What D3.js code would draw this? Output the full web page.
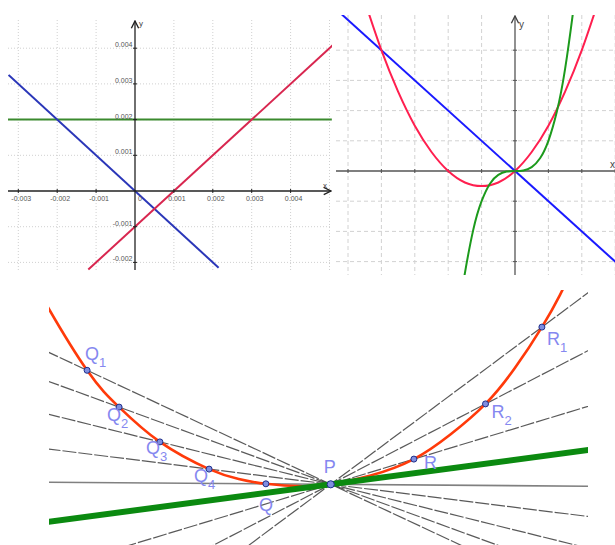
<!DOCTYPE html>
<html>
<head>
<meta charset="utf-8">
<script src="https://cdn.jsdelivr.net/npm/d3@7"></script>
<style>
  body { margin: 0; background: #fff; }
  svg { display: block; }
</style>
</head>
<body>
<div id="chart"></div>
<script>
// ---- panel A (top left): three straight lines, units of 0.001 ----
const aGridX = [-0.003, -0.002, -0.001, 0, 0.001, 0.002, 0.003, 0.004, 0.005];
const aGridY = [-0.002, -0.001, 0, 0.001, 0.002, 0.003, 0.004];
const aTickX = [-0.003, -0.002, -0.001, 0.001, 0.002, 0.003, 0.004];
const aTickY = [-0.002, -0.001, 0.001, 0.002, 0.003, 0.004];
const aBlue = [[-0.00325, 0.00325], [0.00215, -0.00215]];
const aRed = [[-0.0012, -0.0022], [0.0051, 0.0041]];
const aGreen = [[-0.00327, 0.002], [0.00506, 0.002]];

// ---- panel B (top right): line, parabola, cubic ----
const bGridX = [-5, -4, -3, -2, -1, 0, 1, 2, 3];
const bGridY = [-3, -2, -1, 0, 1, 2, 3, 4];
const bBlue = [[-5.3, 5.3], [3.3, -3.3]];
const bParabolaX = [-4.5, -4, -3.5, -3, -2.5, -2, -1.5, -1, -0.5, 0, 0.5, 1, 1.5, 2, 2.5];
const bParabolaY = [5.63, 4, 2.63, 1.5, 0.63, 0, -0.38, -0.5, -0.38, 0, 0.63, 1.5, 2.63, 4, 5.63];
const bCubicX = [-1.6, -1.5, -1.25, -1, -0.75, -0.5, -0.25, 0, 0.25, 0.5, 0.75, 1, 1.25, 1.5, 1.75, 1.8];
const bCubicY = [-4.1, -3.38, -1.95, -1, -0.42, -0.13, -0.02, 0, 0.02, 0.13, 0.42, 1, 1.95, 3.38, 5.36, 5.83];

// ---- panel C (bottom): secants through P approaching the tangent ----
const cCurveX = [-7.2, -7.03, -6.09, -5.29, -4.27, -3.04, -2.3, -1.62, -0.7, 0, 1.0, 2.08, 3.0, 3.87, 4.6, 5.28, 5.73, 6.0];
const cCurveY = [4.7, 4.36, 2.85, 1.93, 1.06, 0.38, 0.13, 0.012, -0.05, 0, 0.22, 0.63, 1.25, 2.01, 2.9, 3.93, 4.73, 5.3];
const cPoints = [
  { name: 'Q', sub: '1', x: -6.09, y: 2.85 },
  { name: 'Q', sub: '2', x: -5.29, y: 1.93 },
  { name: 'Q', sub: '3', x: -4.27, y: 1.06 },
  { name: 'Q', sub: '4', x: -3.04, y: 0.38 },
  { name: 'Q', sub: '', x: -1.62, y: 0.012 },
  { name: 'P', sub: '', x: 0, y: 0 },
  { name: 'R', sub: '', x: 2.08, y: 0.63 },
  { name: 'R', sub: '2', x: 3.87, y: 2.01 },
  { name: 'R', sub: '1', x: 5.28, y: 3.93 }
];
const cTangentSlope = 0.133;

// label offsets (px) from the point: text start, baseline
const labelOffset = {
  Q1: [-2, -10], Q2: [-12, 14], Q3: [-14, 12], Q4: [-15, 13], Q: [-7, 27],
  P: [-7, -11], R: [10, 10], R2: [6, 14], R1: [5, 18]
};

const W = 615, H = 545;
const svg = d3.select('#chart').append('svg')
  .attr('width', W).attr('height', H)
  .style('font-family', '"Liberation Sans", Arial, sans-serif');

const defs = svg.append('defs');
function clip(id, x, y, w, h) {
  defs.append('clipPath').attr('id', id)
    .append('rect').attr('x', x).attr('y', y).attr('width', w).attr('height', h);
  return `url(#${id})`;
}
function arrow(id, color) {
  defs.append('marker').attr('id', id)
    .attr('viewBox', '0 0 10 10').attr('refX', 9).attr('refY', 5)
    .attr('markerWidth', 7).attr('markerHeight', 7).attr('orient', 'auto')
    .append('path').attr('d', 'M1,1 L9,5 L1,9')
    .attr('fill', 'none').attr('stroke', color).attr('stroke-width', 1.5);
}
arrow('arrA', '#222');
arrow('arrB', '#444');

// ================= panel A =================
const ax = d3.scaleLinear().domain([-0.003, 0.005]).range([18.3, 329.5]);
const ay = d3.scaleLinear().domain([-0.002, 0.004]).range([262.4, 48.2]);
const gA = svg.append('g').attr('clip-path', clip('clipA', 8, 15, 324, 258));
const lineA = d3.line().x(d => ax(d[0])).y(d => ay(d[1]));

gA.selectAll('.gx').data(aGridX.filter(d => d !== 0)).join('line')
  .attr('x1', d => ax(d)).attr('x2', d => ax(d)).attr('y1', 20).attr('y2', 270)
  .attr('stroke', '#d0d0d0').attr('stroke-dasharray', '1,2');
gA.selectAll('.gy').data(aGridY.filter(d => d !== 0)).join('line')
  .attr('y1', d => ay(d)).attr('y2', d => ay(d)).attr('x1', 8).attr('x2', 332)
  .attr('stroke', '#d0d0d0').attr('stroke-dasharray', '1,2');

// axes
svg.append('line').attr('x1', 8).attr('x2', 331).attr('y1', ay(0)).attr('y2', ay(0))
  .attr('stroke', '#222').attr('stroke-width', 1.3).attr('marker-end', 'url(#arrA)');
svg.append('line').attr('x1', ax(0)).attr('x2', ax(0)).attr('y1', 270).attr('y2', 21)
  .attr('stroke', '#222').attr('stroke-width', 1.3).attr('marker-end', 'url(#arrA)');
svg.append('text').attr('x', ax(0) + 4).attr('y', 26).text('y')
  .attr('font-size', 8).attr('fill', '#444');
svg.append('text').attr('x', 323).attr('y', 188).text('x')
  .attr('font-size', 8).attr('fill', '#444');

svg.selectAll('.tax').data(aTickX).join('text')
  .attr('x', d => ax(d) + 3).attr('y', ay(0) + 9.5)
  .attr('text-anchor', 'middle').attr('font-size', 7).attr('fill', '#555')
  .text(d => d3.format('.3f')(d).replace('−', '-'));
svg.append('text').attr('x', ax(0) + 3).attr('y', ay(0) + 9.5).text('0')
  .attr('font-size', 7).attr('fill', '#555');
svg.selectAll('.tay').data(aTickY).join('text')
  .attr('x', ax(0) - 2.5).attr('y', d => ay(d) - 1)
  .attr('text-anchor', 'end').attr('font-size', 7).attr('fill', '#555')
  .text(d => d3.format('.3f')(d).replace('−', '-'));
svg.selectAll('.tky').data(aTickY).join('line')
  .attr('x1', ax(0) - 2).attr('x2', ax(0) + 2).attr('y1', d => ay(d)).attr('y2', d => ay(d))
  .attr('stroke', '#222');
svg.selectAll('.tkx').data(aTickX).join('line')
  .attr('y1', ay(0) - 2).attr('y2', ay(0) + 2).attr('x1', d => ax(d)).attr('x2', d => ax(d))
  .attr('stroke', '#222');

gA.append('path').attr('d', lineA(aGreen)).attr('stroke', '#3b8a2e').attr('stroke-width', 2).attr('fill', 'none');
gA.append('path').attr('d', lineA(aBlue)).attr('stroke', '#2a36b8').attr('stroke-width', 2).attr('fill', 'none');
gA.append('path').attr('d', lineA(aRed)).attr('stroke', '#d8264f').attr('stroke-width', 2).attr('fill', 'none');

// ================= panel B =================
const bx = d3.scaleLinear().domain([-5, 3]).range([348, 615.2]);
const by = d3.scaleLinear().domain([-3, 4]).range([261.6, 50.2]);
const gB = svg.append('g').attr('clip-path', clip('clipB', 336, 15, 279, 260));
const lineB = d3.line().x(d => bx(d[0])).y(d => by(d[1]));
const curveB = d3.line().x(d => bx(d[0])).y(d => by(d[1])).curve(d3.curveNatural);

gB.selectAll('.gx').data(bGridX.filter(d => d !== 0)).join('line')
  .attr('x1', d => bx(d)).attr('x2', d => bx(d)).attr('y1', 15).attr('y2', 275)
  .attr('stroke', '#d2d2d2').attr('stroke-dasharray', '4,3');
gB.selectAll('.gy').data(bGridY.filter(d => d !== 0)).join('line')
  .attr('y1', d => by(d)).attr('y2', d => by(d)).attr('x1', 336).attr('x2', 615)
  .attr('stroke', '#d2d2d2').attr('stroke-dasharray', '4,3');

gB.append('line').attr('x1', 336).attr('x2', 615).attr('y1', by(0)).attr('y2', by(0))
  .attr('stroke', '#555').attr('stroke-width', 1.5);
svg.append('line').attr('x1', bx(0)).attr('x2', bx(0)).attr('y1', 275).attr('y2', 16)
  .attr('stroke', '#555').attr('stroke-width', 1.3).attr('marker-end', 'url(#arrB)');
gB.selectAll('.tkx').data(bGridX.filter(d => d !== 0)).join('line')
  .attr('x1', d => bx(d)).attr('x2', d => bx(d)).attr('y1', by(0) - 2).attr('y2', by(0) + 2)
  .attr('stroke', '#555');
gB.selectAll('.tky').data(bGridY.filter(d => d !== 0)).join('line')
  .attr('y1', d => by(d)).attr('y2', d => by(d)).attr('x1', bx(0) - 2).attr('x2', bx(0) + 2)
  .attr('stroke', '#555');
svg.append('text').attr('x', bx(0) + 4).attr('y', 28).text('y')
  .attr('font-size', 10).attr('fill', '#444');
svg.append('text').attr('x', 610).attr('y', 168).text('x')
  .attr('font-size', 10).attr('fill', '#444');

gB.append('path').attr('d', lineB(bBlue)).attr('stroke', '#1a1aff').attr('stroke-width', 2).attr('fill', 'none');
gB.append('path').attr('d', curveB(d3.zip(bParabolaX, bParabolaY)))
  .attr('stroke', '#ff1f4f').attr('stroke-width', 2).attr('fill', 'none');
gB.append('path').attr('d', curveB(d3.zip(bCubicX, bCubicY)))
  .attr('stroke', '#1c9a1c').attr('stroke-width', 2).attr('fill', 'none');

// ================= panel C =================
const cx = d3.scaleLinear().domain([-7, 6.5]).range([50.7, 590.7]);
const cy = d3.scaleLinear().domain([-1.5, 4.75]).range([544.3, 294.3]);
const gC = svg.append('g').attr('clip-path', clip('clipC', 49, 290, 539, 255));
const lineC = d3.line().x(d => cx(d[0])).y(d => cy(d[1]));

const secants = cPoints.filter(p => p.name !== 'P');
const isPQ = p => p.name === 'Q' && p.sub === '';
gC.selectAll('.sec').data(secants).join('path')
  .attr('d', p => { const m = p.y / p.x; return lineC([[-7.5, -7.5 * m], [7, 7 * m]]); })
  .attr('fill', 'none')
  .attr('stroke', p => isPQ(p) ? '#6a6a6a' : '#3c3c3c')
  .attr('stroke-width', p => isPQ(p) ? 1.6 : 1.2)
  .attr('stroke-opacity', 0.85)
  .attr('stroke-dasharray', p => isPQ(p) ? null : '14,2');

gC.append('path').attr('d', lineC.curve(d3.curveNatural)(d3.zip(cCurveX, cCurveY)))
  .attr('fill', 'none').attr('stroke', '#ff3a0a').attr('stroke-width', 2.6);
lineC.curve(d3.curveLinear);

gC.append('path').attr('d', lineC([[-7.5, -7.5 * cTangentSlope], [7, 7 * cTangentSlope]]))
  .attr('fill', 'none').attr('stroke', '#0b8a10').attr('stroke-width', 6);

gC.selectAll('.pt').data(cPoints).join('circle')
  .attr('cx', p => cx(p.x)).attr('cy', p => cy(p.y))
  .attr('r', p => p.name === 'P' ? 3.6 : 3)
  .attr('fill', '#7f8ee0').attr('stroke', '#1f2f8a').attr('stroke-width', 1);

const lbl = svg.selectAll('.lbl').data(cPoints).join('text')
  .attr('x', p => cx(p.x) + labelOffset[p.name + p.sub][0])
  .attr('y', p => cy(p.y) + labelOffset[p.name + p.sub][1])
  .attr('font-size', 18).attr('fill', '#8588f0');
lbl.append('tspan').text(p => p.name);
lbl.filter(p => p.sub !== '').append('tspan')
  .attr('font-size', 13).attr('dy', 7).text(p => p.sub);
</script>
</body>
</html>
